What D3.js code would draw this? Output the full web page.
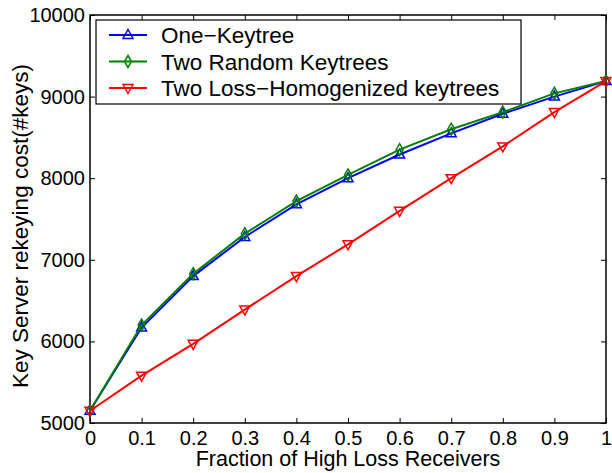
<!DOCTYPE html>
<html lang="en">
  <head>
    <meta charset="utf-8">
    <title>Rekeying cost</title>
    <script src="https://cdn.jsdelivr.net/npm/d3@7/dist/d3.min.js"></script>
    <style>
      body { margin: 0; background: #fff; }
      text { font-family: "Liberation Sans", Arial, sans-serif; }
    </style>
  </head>
  <body>
    <script>
      // data
      var fractions = [0, 0.1, 0.2, 0.3, 0.4, 0.5, 0.6, 0.7, 0.8, 0.9, 1];
      var oneKeytree = [5150, 6170, 6800, 7280, 7680, 8000, 8290, 8550, 8790, 9000, 9190];
      var twoRandom = [5150, 6200, 6830, 7320, 7720, 8040, 8350, 8600, 8810, 9040, 9190];
      var twoLossHomog = [5150, 5580, 5970, 6390, 6800, 7190, 7600, 8000, 8390, 8810, 9190];
      var seriesNames = ["One\u2212Keytree", "Two Random Keytrees", "Two Loss\u2212Homogenized keytrees"];
      var xTicks = [0, 0.1, 0.2, 0.3, 0.4, 0.5, 0.6, 0.7, 0.8, 0.9, 1];
      var yTicks = [5000, 6000, 7000, 8000, 9000, 10000];

      var W = 612, H = 473;
      var margin = {top: 15, right: 6, bottom: 50, left: 90};
      var width = W - margin.left - margin.right;
      var height = H - margin.top - margin.bottom;

      var svg = d3.select("body").append("svg")
                  .attr("width", W)
                  .attr("height", H);
      var g = svg.append("g")
                 .attr("transform", "translate(" + margin.left + "," + margin.top + ")");

      var x = d3.scaleLinear().domain([0, 1]).range([0, width]);
      var y = d3.scaleLinear().domain([5000, 10000]).range([height, 0]);

      // axes, ticks pointing inward
      var fmtX = function(d) { return d === 0 || d === 1 ? d3.format("d")(d) : d3.format(".1f")(d); };
      g.append("g").attr("transform", "translate(0," + height + ")")
        .call(d3.axisBottom(x).tickValues(xTicks).tickSizeInner(-5).tickSizeOuter(0).tickPadding(8).tickFormat(fmtX));
      g.append("g")
        .call(d3.axisTop(x).tickValues(xTicks).tickSizeInner(-5).tickSizeOuter(0).tickFormat(""));
      g.append("g")
        .call(d3.axisLeft(y).tickValues(yTicks).tickSizeInner(-5).tickSizeOuter(0).tickPadding(5).tickFormat(d3.format("d")));
      g.append("g").attr("transform", "translate(" + width + ",0)")
        .call(d3.axisRight(y).tickValues(yTicks).tickSizeInner(-5).tickSizeOuter(0).tickFormat(""));
      g.selectAll(".domain").remove();
      g.selectAll(".tick line").attr("stroke", "#000");
      g.selectAll(".tick text").attr("font-size", 20).attr("fill", "#000")
        .style("font-family", "'Liberation Sans', Arial, sans-serif");

      g.append("rect")
        .attr("width", width).attr("height", height)
        .attr("fill", "none").attr("stroke", "#000").attr("stroke-width", 1.5);

      var series = [
        {name: seriesNames[0], values: oneKeytree, color: "#0000ff", marker: "up"},
        {name: seriesNames[1], values: twoRandom, color: "#008000", marker: "diamond"},
        {name: seriesNames[2], values: twoLossHomog, color: "#ff0000", marker: "down"}
      ];

      var line = d3.line()
                   .x(function(d, i) { return x(fractions[i]); })
                   .y(function(d) { return y(d); });

      function markerPath(type) {
        if (type === "up") return "M0,-5.5L5,3.5L-5,3.5Z";
        if (type === "down") return "M0,5.5L5,-3.5L-5,-3.5Z";
        return "M0,-6L3.5,0L0,6L-3.5,0Z";
      }

      series.forEach(function(s) {
        g.append("path")
          .datum(s.values)
          .attr("d", line)
          .attr("fill", "none")
          .attr("stroke", s.color)
          .attr("stroke-width", 2);
        g.selectAll(null)
          .data(s.values)
          .enter()
          .append("path")
          .attr("transform", function(d, i) { return "translate(" + x(fractions[i]) + "," + y(d) + ")"; })
          .attr("d", markerPath(s.marker))
          .attr("fill", "none")
          .attr("stroke", s.color)
          .attr("stroke-width", 1.5);
      });

      // legend
      var legend = g.append("g").attr("transform", "translate(6,5)");
      legend.append("rect")
        .attr("width", 425).attr("height", 84)
        .attr("fill", "#fff").attr("stroke", "#000").attr("stroke-width", 1.2);
      series.forEach(function(s, i) {
        var ly = 15 + i * 26.5;
        legend.append("line")
          .attr("x1", 13).attr("x2", 51).attr("y1", ly).attr("y2", ly)
          .attr("stroke", s.color).attr("stroke-width", 2);
        legend.append("path")
          .attr("transform", "translate(32," + ly + ")")
          .attr("d", markerPath(s.marker))
          .attr("fill", "none").attr("stroke", s.color).attr("stroke-width", 1.5);
        legend.append("text")
          .attr("x", 65).attr("y", ly)
          .attr("dy", "0.36em")
          .attr("font-size", 22.5)
          .text(s.name);
      });

      // axis labels
      svg.append("text")
        .attr("x", margin.left + width / 2)
        .attr("y", 466)
        .attr("text-anchor", "middle")
        .attr("font-size", 21.5)
        .text("Fraction of High Loss Receivers");
      svg.append("text")
        .attr("transform", "translate(28,226) rotate(-90)")
        .attr("text-anchor", "middle")
        .attr("font-size", 22.5)
        .text("Key Server rekeying cost(#keys)");
    </script>
  </body>
</html>
